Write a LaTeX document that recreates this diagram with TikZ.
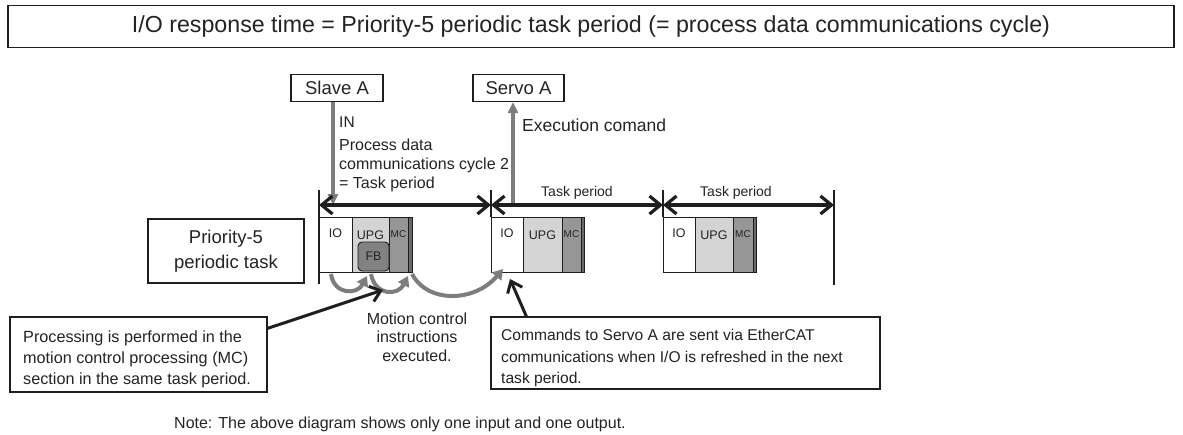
\documentclass[tikz,border=0pt]{standalone}
\usepackage{fontspec}
\setmainfont{Liberation Sans}
\usetikzlibrary{arrows.meta}
\definecolor{txt}{RGB}{35,35,35}
\definecolor{edge}{RGB}{30,30,30}
\definecolor{garrc}{RGB}{125,125,125}
\definecolor{upgc}{RGB}{212,212,212}
\definecolor{mcc}{RGB}{150,150,150}
\definecolor{fbc}{RGB}{130,130,130}
\definecolor{stripc}{RGB}{105,105,105}
\newcommand{\fsz}[2]{\fontsize{#1}{#2}\selectfont}
\tikzset{
  box/.style={draw=edge, line width=1.3pt, inner sep=0pt, text=txt},
  blk/.style={draw=edge, line width=0.9pt, anchor=north west, minimum height=55pt, inner sep=0pt},
  lbl/.style={text=txt, inner sep=0pt, font=\fsz{12.5}{15}},
  plain/.style={text=txt, inner sep=0pt},
  dbl/.style={draw=edge, line width=3.2pt, {Straight Barb[length=11pt,width=18pt]}-{Straight Barb[length=11pt,width=18pt]}},
  tick/.style={draw=edge, line width=1.3pt},
  garr/.style={draw=garrc, line width=3.5pt, -{Triangle[length=11pt,width=10pt]}},
  carr/.style={draw=garrc, line width=4pt, -{Triangle[length=10pt,width=12pt]}},
  barr/.style={draw=edge, line width=3pt, -{Straight Barb[length=10pt,width=16pt]}}
}
\begin{document}
\begin{tikzpicture}[x=1pt,y=-1pt]
\useasboundingbox (0,0) rectangle (1183,434);

% header
\node[box, line width=1.5pt, minimum width=1166pt, minimum height=42pt, font=\fsz{23.2}{27}] (hdr) at (591,26.5)
  {I/O response time = Priority-5 periodic task period (= process data communications cycle)};

% device boxes
\node[box, minimum width=92pt, minimum height=27pt, font=\fsz{18.5}{22}] (slave) at (337,88) {Slave A};
\node[box, minimum width=91pt, minimum height=27pt, font=\fsz{18.5}{22}] (servo) at (518.5,88) {Servo A};

% tick lines
\coordinate (t0a) at (319,190); \coordinate (t0b) at (319,284);
\coordinate (t1a) at (491,190); \coordinate (t1b) at (491,217);
\coordinate (t2a) at (663,190); \coordinate (t2b) at (663,217);
\coordinate (t3a) at (834,190); \coordinate (t3b) at (834,285);
\draw[tick] (t0a) -- (t0b);
\draw[tick] (t1a) -- (t1b);
\draw[tick] (t2a) -- (t2b);
\draw[tick] (t3a) -- (t3b);

% gray IN / OUT arrows
\coordinate (inEnd) at (333,205);
\coordinate (outStart) at (513,205);
\draw[garr] ([xshift=-4pt]slave.south) -- (inEnd);
\draw[garr] (outStart) -- ([xshift=-5.5pt]servo.south);

% period arrows
\coordinate (p0) at (319,205); \coordinate (p1) at (491,205);
\coordinate (p2) at (663,205); \coordinate (p3) at (834,205);
\draw[dbl] (p0) -- (p1);
\draw[dbl] (p1) -- (p2);
\draw[dbl] (p2) -- (p3);

% texts near arrows
\node[plain, anchor=west, font=\fsz{15.5}{19}] (in) at (339,122) {IN};
\node[plain, anchor=north west, align=left, font=\fsz{16}{19}] (pd) at (339,138.5)
  {Process data\\communications cycle 2\\= Task period};
\node[plain, anchor=west, font=\fsz{17.5}{20}] (exe) at (522,125) {Execution comand};
\node[plain, font=\fsz{14}{16}] (tp1) at (577,192.5) {Task period};
\node[plain, font=\fsz{14}{16}] (tp2) at (736,192.5) {Task period};

% priority box
\node[box, minimum width=156pt, minimum height=64pt, align=center, font=\fsz{18.5}{25}] (prio) at (226,251)
  {Priority-5\\periodic task};

% block 1
\node[blk, fill=white, minimum width=33pt] (io1) at (319,217) {};
\node[blk, fill=upgc, minimum width=37pt] (upg1) at (352,217) {};
\node[blk, fill=mcc, minimum width=19pt] (mc1) at (389,217) {};
\node[blk, fill=stripc, minimum width=4pt] (st1) at (408,217) {};
% block 2
\node[blk, fill=white, minimum width=32pt] (io2) at (491,217) {};
\node[blk, fill=upgc, minimum width=39pt] (upg2) at (523,217) {};
\node[blk, fill=mcc, minimum width=19pt] (mc2) at (562,217) {};
\node[blk, fill=stripc, minimum width=3pt] (st2) at (581,217) {};
% block 3
\node[blk, fill=white, minimum width=32pt] (io3) at (663,217) {};
\node[blk, fill=upgc, minimum width=38pt] (upg3) at (695,217) {};
\node[blk, fill=mcc, minimum width=20pt] (mc3) at (733,217) {};
\node[blk, fill=stripc, minimum width=3pt] (st3) at (753,217) {};

% FB
\node[draw=edge, line width=0.9pt, fill=fbc, rounded corners=4pt, minimum width=31pt, minimum height=29pt,
      inner sep=0pt, font=\fsz{12.5}{15}, text=txt] (fb) at (373.5,256.5) {FB};

% block labels
\node[lbl] (lio1) at (335.5,233) {IO};
\node[lbl] (lupg1) at (370.5,235) {UPG};
\node[lbl, font=\fsz{10}{12}] (lmc1) at (398.5,234) {MC};
\node[lbl] (lio2) at (507,233) {IO};
\node[lbl] (lupg2) at (542.5,235) {UPG};
\node[lbl, font=\fsz{10}{12}] (lmc2) at (571.5,234) {MC};
\node[lbl] (lio3) at (679,233) {IO};
\node[lbl] (lupg3) at (714,235) {UPG};
\node[lbl, font=\fsz{10}{12}] (lmc3) at (743,234) {MC};

% curved gray arrows
\coordinate (c1a) at (331,274); \coordinate (c1b) at (367,276);
\coordinate (c2a) at (371,274); \coordinate (c2b) at (408,276);
\coordinate (c3a) at (412,274); \coordinate (c3b) at (503,269);
\draw[carr] (c1a) .. controls (334,295) and (357,295) .. (c1b);
\draw[carr] (c2a) .. controls (375,296) and (398,296) .. (c2b);
\draw[carr] (c3a) .. controls (428,304) and (475,302) .. (c3b);

% explanation boxes
\node[box, minimum width=257pt, minimum height=75pt] (lbox) at (138.5,354.5) {};
\node[plain, anchor=north west, align=left, font=\fsz{16.2}{21}] (ltxt) at (23,331)
  {Processing is performed in the\\motion control processing (MC)\\section in the same task period.};
\node[box, minimum width=389pt, minimum height=72pt] (rbox) at (685.5,353) {};
\node[plain, anchor=north west, align=left, font=\fsz{15.6}{21.5}] (rtxt) at (501,329)
  {Commands to Servo A are sent via EtherCAT\\communications when I/O is refreshed in the next\\task period.};
\node[plain, align=center, font=\fsz{16}{18.7}] (mci) at (417,337)
  {Motion control\\instructions\\executed.};

% black pointer arrows
\coordinate (pA) at (383,290);
\coordinate (pB) at (510,279);
\draw[barr] ([yshift=-12pt]lbox.north east) -- (pA);
\draw[barr] ([xshift=36pt]rbox.north west) -- (pB);

% note
\node[plain, anchor=west, font=\fsz{16}{18}] (note) at (174,424)
  {Note: The above diagram shows only one input and one output.};
\end{tikzpicture}
\end{document}
